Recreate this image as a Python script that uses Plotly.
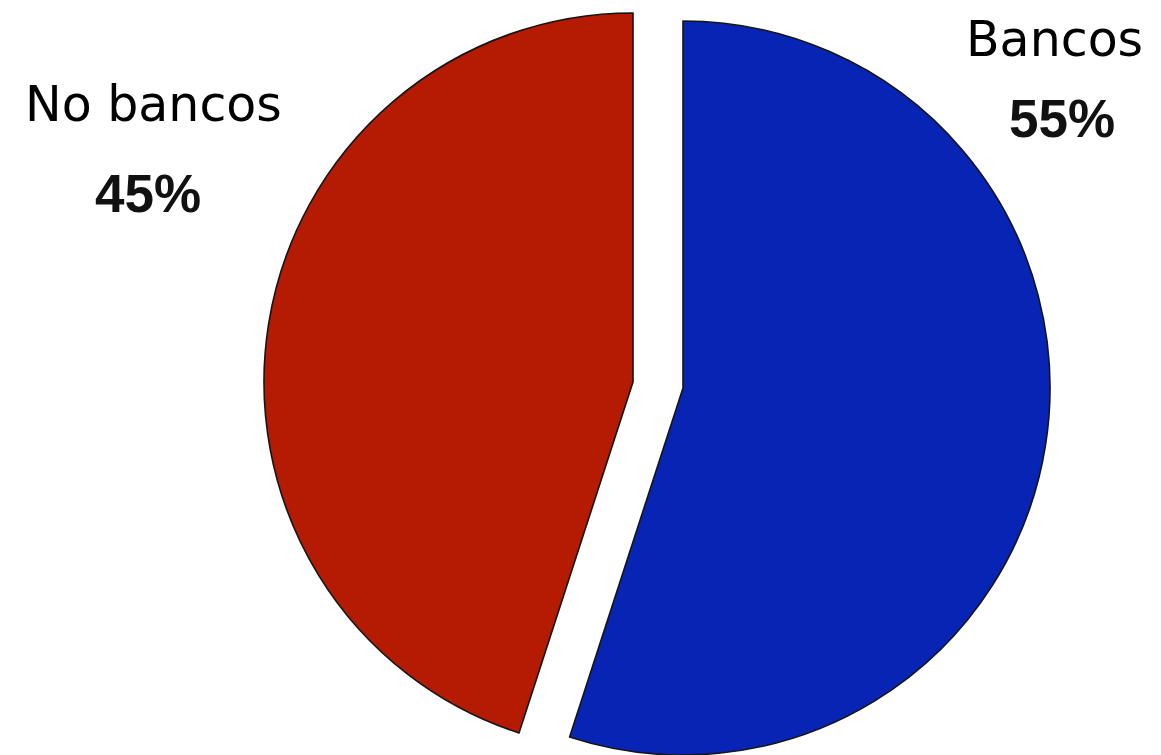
import plotly.graph_objects as go

labels = ["Bancos", "No bancos"]
values = [55, 45]
colors = ["#0824b4", "#b41b02"]
outline = "#151515"

# page body has an 8px margin, so the figure is 8px smaller than the window
W, H = 1153, 747

# geometry of each (exploded) slice: domain [x0,x1], [y0,y1] in paper units
domains = [
    dict(x=[0.26713, 0.90373], y=[0.0, 0.98260]),    # Bancos
    dict(x=[0.22203, 0.86210], y=[0.00535, 0.99331]),  # No bancos
]

fig = go.Figure()
for i in range(len(labels)):
    cols = ["rgba(0,0,0,0)"] * len(labels)
    lcols = ["rgba(0,0,0,0)"] * len(labels)
    lw = [0] * len(labels)
    cols[i] = colors[i]
    lcols[i] = outline
    lw[i] = 1.6
    fig.add_trace(go.Pie(
        labels=labels, values=values, sort=False, direction="clockwise",
        rotation=0, domain=domains[i], textinfo="none", showlegend=False,
        marker=dict(colors=cols, line=dict(color=lcols, width=lw)),
        hoverinfo="label+percent",
    ))

total = sum(values)
pct = [f"{round(v * 100 / total)}%" for v in values]
label_pos = [(0.9080, 0.9572), (0.12576, 0.87015)]
pct_pos = [(0.91414, 0.85274), (0.12142, 0.75234)]
ann = []
for i in range(len(labels)):
    ann.append(dict(text=labels[i], x=label_pos[i][0], y=label_pos[i][1],
                    xref="paper", yref="paper", showarrow=False,
                    xanchor="center", yanchor="middle",
                    font=dict(family="DejaVu Sans", size=49, color="#000")))
    ann.append(dict(text=f"<b>{pct[i]}</b>", x=pct_pos[i][0], y=pct_pos[i][1],
                    xref="paper", yref="paper", showarrow=False,
                    xanchor="center", yanchor="middle",
                    font=dict(family="Liberation Sans", size=53, color="#111")))

fig.update_layout(
    width=W, height=H,
    margin=dict(l=0, r=0, t=0, b=0),
    paper_bgcolor="white", plot_bgcolor="white",
    annotations=ann,
)

fig.write_html("out.html")
